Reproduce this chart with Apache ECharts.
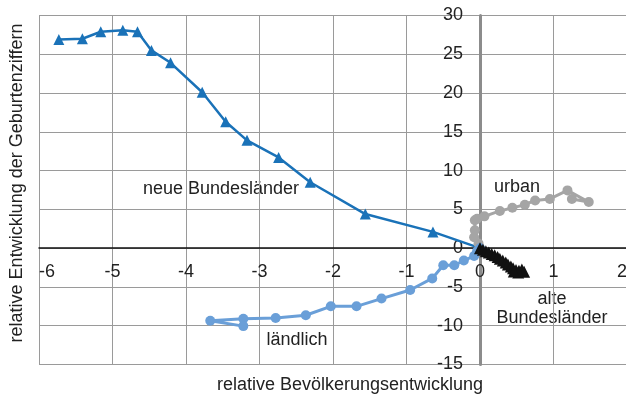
<!DOCTYPE html>
<html>
<head>
<meta charset="utf-8">
<script src="https://cdn.jsdelivr.net/npm/echarts@6/dist/echarts.min.js"></script>
<style>
  html, body { margin: 0; padding: 0; background: #fff; }
  #main-chart { width: 626px; height: 402px; }
</style>
</head>
<body>
<div id="main-chart"></div>
<script>
// x = relative Bevölkerungsentwicklung, y = relative Entwicklung der Geburtenziffern
const neueBundeslaender = [
    [0, 0], [-0.64, 2.1], [-1.56, 4.4], [-2.31, 8.5], [-2.74, 11.7], [-3.17, 13.9],
    [-3.46, 16.3], [-3.78, 20.1], [-4.21, 23.9], [-4.47, 25.5], [-4.66, 27.9],
    [-4.86, 28.1], [-5.16, 27.9], [-5.41, 27.0], [-5.73, 26.9]
];
const laendlich = [
    [0, 0], [-0.04, -0.4], [-0.08, -1.0], [-0.22, -1.6], [-0.35, -2.2], [-0.50, -2.2],
    [-0.65, -3.9], [-0.95, -5.4], [-1.34, -6.5], [-1.68, -7.5], [-2.03, -7.5],
    [-2.37, -8.65], [-2.78, -9.0], [-3.22, -9.1], [-3.67, -9.35], [-3.22, -10.05]
];
const urban = [
    [0, 0], [-0.02, 0.6], [-0.08, 1.4], [-0.07, 2.3], [-0.07, 3.6], [-0.04, 3.8],
    [0.06, 4.1], [0.27, 4.8], [0.44, 5.2], [0.61, 5.6], [0.75, 6.15], [0.95, 6.35],
    [1.19, 7.45], [1.48, 5.95], [1.25, 6.35]
];
const alteBundeslaender = [
    [0, 0], [0.04, -0.2], [0.08, -0.4], [0.12, -0.55], [0.16, -0.75], [0.2, -0.9],
    [0.24, -1.15], [0.27, -1.35], [0.31, -1.6], [0.35, -1.85], [0.38, -2.1],
    [0.42, -2.35], [0.45, -2.6], [0.49, -2.8], [0.53, -2.9], [0.57, -2.75],
    [0.6, -3.05], [0.52, -3.15], [0.46, -3.0]
];
const xTicks = { min: -6, max: 2, step: 1 };
const yTicks = { min: -15, max: 30, step: 5 };

const myChart = echarts.init(document.getElementById('main-chart'));
const font = 'Liberation Sans, Arial, sans-serif';

// plot box in px
const gridLeft = 39, gridRight = -1, gridTop = 15.5, gridBottom = 37.5;
const plotW = 626 - gridLeft - gridRight;
const plotH = 402 - gridTop - gridBottom;
// axes cross at zero, so shift them with offset
const yAxisOffset = -plotW * (0 - xTicks.min) / (xTicks.max - xTicks.min);
const xAxisOffset = -plotH * (0 - yTicks.min) / (yTicks.max - yTicks.min);

const option = {
    animation: false,
    grid: { left: gridLeft, right: gridRight, top: gridTop, bottom: gridBottom, outerBoundsMode: 'none' },

    xAxis: {
        type: 'value',
        min: xTicks.min,
        max: xTicks.max,
        interval: xTicks.step,
        position: 'bottom',
        offset: xAxisOffset,
        axisLine: { show: true, onZero: false, lineStyle: { color: '#111', width: 1.5 } },
        axisTick: { show: false },
        axisLabel: {
            fontFamily: font, fontSize: 18, color: '#222', margin: 15,
            alignMinLabel: 'left', alignMaxLabel: 'right'
        },
        splitLine: { show: true, lineStyle: { color: '#9a9a9a', width: 1 } }
    },

    yAxis: {
        type: 'value',
        min: yTicks.min,
        max: yTicks.max,
        interval: yTicks.step,
        position: 'left',
        offset: yAxisOffset,
        axisLine: { show: true, onZero: false, lineStyle: { color: '#8c8c8c', width: 3 } },
        axisTick: { show: false },
        axisLabel: { fontFamily: font, fontSize: 18, color: '#222', margin: 17 },
        splitLine: { show: true, lineStyle: { color: '#9a9a9a', width: 1 } }
    },

    series: [{
        name: 'urban',
        type: 'line',
        data: urban,
        symbol: 'circle',
        symbolSize: 10,
        lineStyle: { color: '#a5a5a5', width: 3 },
        itemStyle: { color: '#a5a5a5' }
    }, {
        name: 'ländlich',
        type: 'line',
        data: laendlich,
        symbol: 'circle',
        symbolSize: 10,
        lineStyle: { color: '#6a9fd8', width: 3 },
        itemStyle: { color: '#6a9fd8' }
    }, {
        name: 'neue Bundesländer',
        type: 'line',
        data: neueBundeslaender,
        symbol: 'triangle',
        symbolSize: 11,
        lineStyle: { color: '#1a72b8', width: 2.5 },
        itemStyle: { color: '#1a72b8' }
    }, {
        name: 'alte Bundesländer',
        type: 'line',
        data: alteBundeslaender,
        symbol: 'triangle',
        symbolSize: 12,
        lineStyle: { color: '#111', width: 3 },
        itemStyle: { color: '#111' }
    }],

    graphic: [
        { type: 'text', x: 350, y: 385,
          style: { text: 'relative Bevölkerungsentwicklung', font: '18px ' + font, fill: '#222',
                   align: 'center', verticalAlign: 'middle' } },
        { type: 'text', x: 17, y: 183, rotation: Math.PI / 2,
          style: { text: 'relative Entwicklung der Geburtenziffern', font: '18px ' + font, fill: '#222',
                   align: 'center', verticalAlign: 'middle' } },
        { type: 'text', x: 221, y: 189,
          style: { text: 'neue Bundesländer', font: '18px ' + font, fill: '#222', align: 'center', verticalAlign: 'middle' } },
        { type: 'text', x: 517, y: 187,
          style: { text: 'urban', font: '18px ' + font, fill: '#222', align: 'center', verticalAlign: 'middle' } },
        { type: 'text', x: 297, y: 340,
          style: { text: 'ländlich', font: '18px ' + font, fill: '#222', align: 'center', verticalAlign: 'middle' } },
        { type: 'text', x: 552, y: 309,
          style: { text: 'alte\nBundesländer', font: '18px ' + font, lineHeight: 19, fill: '#222', align: 'center', verticalAlign: 'middle' } }
    ]
};

myChart.setOption(option);
</script>
</body>
</html>
